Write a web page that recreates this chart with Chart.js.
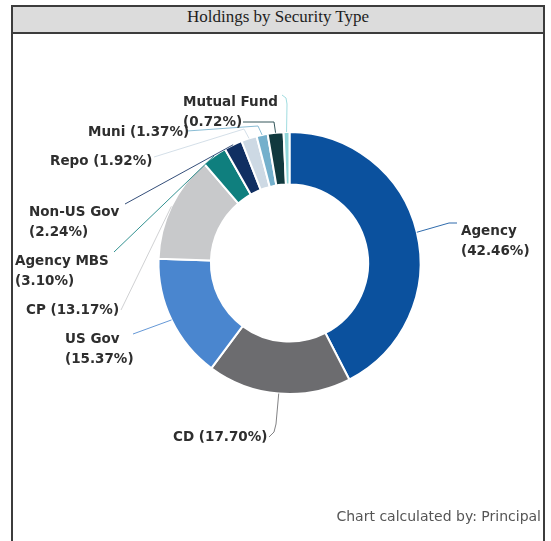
<!DOCTYPE html>
<html>
<head>
<meta charset="utf-8">
<script src="https://cdn.jsdelivr.net/npm/chart.js"></script>
<style>
  body { margin: 0; background: #fff; width: 551px; height: 541px; overflow: hidden; position: relative; }
  #frame {
    position: absolute; left: 11px; top: 5px; width: 530px; height: 600px;
    border: 2px solid #3c3c3c; border-bottom: none;
  }
  #title {
    height: 25px; line-height: 25px; background: #dcdcdc;
    border-bottom: 2px solid #3c3c3c; text-align: center;
    font: 17px "Liberation Serif", serif; color: #1e1e1e;
  }
  #chart { position: absolute; left: 0; top: 0; }
</style>
</head>
<body>
<div id="frame"><div id="title">Holdings by Security Type</div></div>
<canvas id="chart" width="551" height="541"></canvas>
<script>
    // ▼ 데이터
    const categories = ['Agency', 'CD', 'US Gov', 'CP', 'Agency MBS', 'Non-US Gov', 'Repo', 'Muni', '', 'Mutual Fund'];
    const shares = [42.46, 17.70, 15.37, 13.17, 3.10, 2.24, 1.92, 1.37, 1.95, 0.72];
    const sliceColors = ['#0b519e', '#6c6c6f', '#4a86cf', '#c8c9cb', '#0f7f7e', '#102f62', '#cdd9e4', '#74b0cc', '#10393e', '#8fd6da'];

    // ▼ 라벨 위치 / 연결선 꺾임점 (레이아웃)
    const labelLayout = [
        { x: 461, y: 231, split: true,  path: [[457, 223], [449, 223]] },
        { x: 173, y: 437, split: false, path: [[269, 437], [274, 432], [276, 424]] },
        { x: 65,  y: 339, split: true,  path: [[133, 334]] },
        { x: 26,  y: 310, split: false, path: [[121, 310]] },
        { x: 15,  y: 261, split: true,  path: [[114, 252]] },
        { x: 29,  y: 212, split: true,  path: [[125, 204]] },
        { x: 50,  y: 161, split: false, path: [[154, 157], [244, 129]] },
        { x: 88,  y: 132, split: false, path: [[187, 131], [258, 126]] },
        { x: 0,   y: 0,   split: false, path: [[243, 122], [274, 122]] },
        { x: 183, y: 102, split: true,  path: [[282, 95], [286, 98], [287, 104]] }
    ];

    const labelPlugin = {
        id: 'sliceLabels',
        afterDraw(chart) {
            const ctx = chart.ctx;
            const arcs = chart.getDatasetMeta(0).data;
            ctx.save();
            arcs.forEach((arc, i) => {
                const lay = labelLayout[i];
                const mid = (arc.startAngle + arc.endAngle) / 2;
                const px = arc.x + Math.cos(mid) * arc.outerRadius;
                const py = arc.y + Math.sin(mid) * arc.outerRadius;

                // 연결선
                ctx.strokeStyle = sliceColors[i];
                ctx.globalAlpha = 0.85;
                ctx.lineWidth = 1;
                ctx.lineJoin = 'round';
                ctx.beginPath();
                lay.path.forEach(([x, y], k) => k === 0 ? ctx.moveTo(x, y) : ctx.lineTo(x, y));
                ctx.lineTo(px, py);
                ctx.stroke();
                ctx.globalAlpha = 1;

                // 라벨 텍스트
                if (!categories[i]) return;
                const pct = '(' + shares[i].toFixed(2) + '%)';
                ctx.fillStyle = '#2e2e2e';
                ctx.font = 'bold 13.5px "DejaVu Sans"';
                ctx.textAlign = 'left';
                ctx.textBaseline = 'middle';
                if (lay.split) {
                    ctx.fillText(categories[i], lay.x, lay.y);
                    ctx.fillText(pct, lay.x, lay.y + 20);
                } else {
                    ctx.fillText(categories[i] + ' ' + pct, lay.x, lay.y);
                }
            });

            ctx.fillStyle = '#555';
            ctx.font = '14px "DejaVu Sans"';
            ctx.textAlign = 'right';
            ctx.fillText('Chart calculated by: Principal', 541, 517);
            ctx.restore();
        }
    };

    const chart = new Chart(document.getElementById('chart'), {
        type: 'doughnut',
        data: {
            labels: categories,
            datasets: [{
                data: shares,
                backgroundColor: sliceColors,
                borderColor: '#ffffff',
                borderWidth: 2
            }]
        },
        options: {
            responsive: false,
            animation: false,
            cutout: '60%',
            layout: { padding: { left: 157, right: 129, top: 131, bottom: 146 } },
            plugins: { legend: { display: false }, tooltip: { enabled: false } }
        },
        plugins: [labelPlugin]
    });
</script>
</body>
</html>
